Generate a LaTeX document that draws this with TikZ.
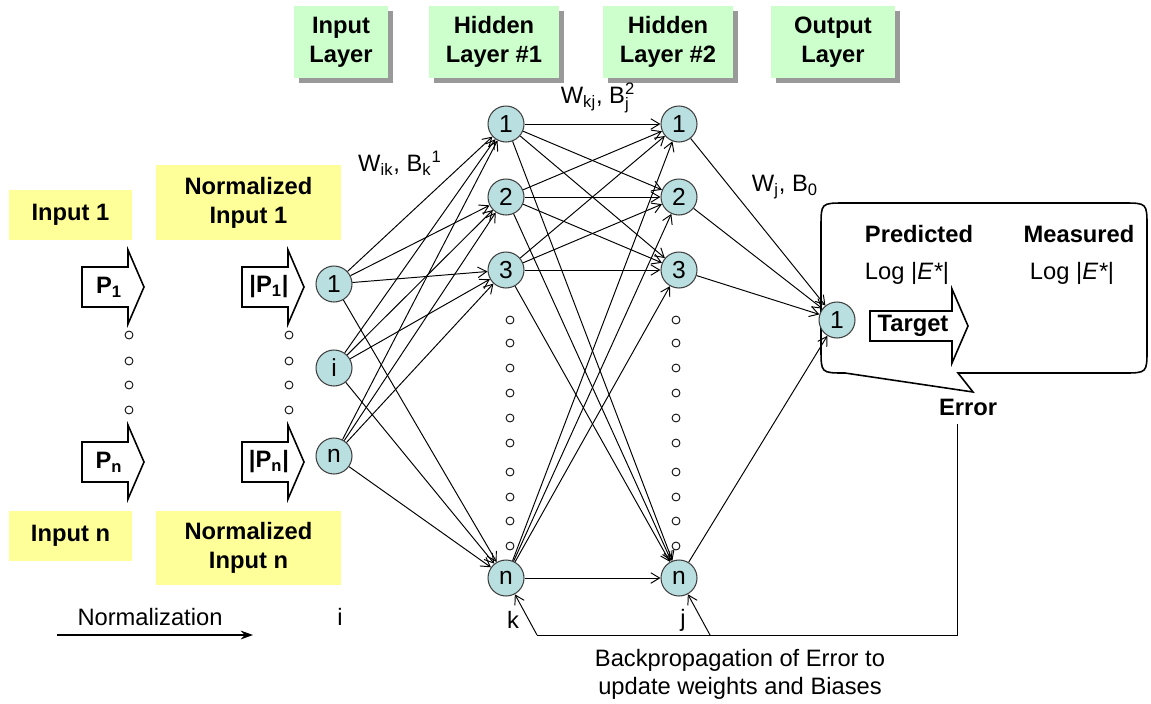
\documentclass[tikz,border=0pt]{standalone}
\usepackage{fontspec}
\setmainfont{Liberation Sans}
\usetikzlibrary{arrows.meta,shadows}

\definecolor{neuronfill}{HTML}{B9DFE0}
\definecolor{layergreen}{HTML}{CCFFCC}
\definecolor{inyellow}{HTML}{FFFF99}

% block arrow: x, y, half length, half shaft height
\newcommand{\blockarrow}[4]{%
  \draw[blk] (#1-#3,#2-#4) -- (#1+#3-16,#2-#4) -- (#1+#3-16,#2-37) -- (#1+#3,#2)
    -- (#1+#3-16,#2+37) -- (#1+#3-16,#2+#4) -- (#1-#3,#2+#4) -- cycle;}

\begin{document}
\begin{tikzpicture}[x=0.02cm, y=-0.02cm]
  \tikzset{
    neuron/.style={draw=black!75, fill=neuronfill, circle, minimum size=0.72cm, inner sep=0pt, line width=0.6pt, font=\fontsize{14}{16}\selectfont},
    layerbox/.style={fill=layergreen, minimum height=1.44cm, align=center, inner sep=1pt, font=\bfseries\fontsize{13.5}{16.5}\selectfont, drop shadow={shadow xshift=0.1cm, shadow yshift=-0.1cm, fill=black!40, opacity=1}},
    inbox/.style={fill=inyellow, align=center, inner sep=1pt, font=\bfseries\fontsize{13.5}{16.5}\selectfont},
    lbl/.style={font=\fontsize{13.5}{16}\selectfont, inner sep=1pt},
    blbl/.style={font=\bfseries\fontsize{13.5}{16}\selectfont, inner sep=1pt},
    link/.style={-{Straight Barb[length=5pt,width=6pt]}, line width=0.55pt},
    blk/.style={draw, line width=0.9pt, fill=white},
    smalldot/.style={draw, circle, inner sep=0pt, minimum size=4.5pt, line width=0.5pt}
  }
  \useasboundingbox (0,0) rectangle (1151,703);

  % layer titles
  \node[layerbox, minimum width=1.9cm] (tin) at (341,42) {Input\\Layer};
  \node[layerbox, minimum width=2.6cm] (th1) at (494,42) {Hidden\\Layer \#1};
  \node[layerbox, minimum width=2.6cm] (th2) at (668,42) {Hidden\\Layer \#2};
  \node[layerbox, minimum width=2.48cm] (tout) at (833,42) {Output\\Layer};

  % inputs
  \node[inbox, minimum width=2.46cm, minimum height=1.0cm] (inp1) at (70.5,215) {Input 1};
  \node[inbox, minimum width=3.7cm, minimum height=1.5cm] (norm1) at (248.5,202.5) {Normalized\\Input 1};
  \node[inbox, minimum width=2.46cm, minimum height=1.0cm] (inpn) at (70.5,536) {Input n};
  \node[inbox, minimum width=3.7cm, minimum height=1.48cm] (normn) at (248.5,548) {Normalized\\Input n};

  \blockarrow{113}{287}{31}{20}
  \blockarrow{273}{287}{31}{20}
  \blockarrow{113}{462}{31}{20}
  \blockarrow{273}{462}{31}{20}
  \node[blbl] (p1) at (109,287) {P\textsubscript{1}};
  \node[blbl] (np1) at (269,287) {|P\textsubscript{1}|};
  \node[blbl] (pn) at (109,462) {P\textsubscript{n}};
  \node[blbl] (npn) at (269,462) {|P\textsubscript{n}|};
  \foreach \y in {335,361,385,410} {
    \node[smalldot] at (129,\y) {};
    \node[smalldot] at (289,\y) {};
  }

  % callout
  \draw[line width=0.9pt, fill=white] (958,373) -- (1123,373) .. controls (1147,373) .. (1147,349)
    -- (1147,227) .. controls (1147,203) .. (1123,203) -- (845,203) .. controls (821,203) .. (821,227)
    -- (821,349) .. controls (821,373) .. (845,373) -- (973,392) -- cycle;
  \node[blbl] (pred) at (919,234) {Predicted};
  \node[blbl] (meas) at (1079,234) {Measured};
  \node[lbl] (logp) at (907,273) {Log |\textit{E*}|};
  \node[lbl] (logm) at (1072,273) {Log |\textit{E*}|};
  \blockarrow{919}{326}{49}{15}
  \node[blbl] (target) at (913,326) {Target};
  \node[blbl] (err) at (968,407) {Error};

  % network
  \node[neuron] (in1) at (334,284) {1};
  \node[neuron] (ini) at (334,368) {i};
  \node[neuron] (inn) at (334,456) {n};
  \node[neuron] (ha1) at (506,124) {1};
  \node[neuron] (ha2) at (506,197) {2};
  \node[neuron] (ha3) at (506,270) {3};
  \node[neuron] (han) at (506,578) {n};
  \node[neuron] (hb1) at (679,124) {1};
  \node[neuron] (hb2) at (679,197) {2};
  \node[neuron] (hb3) at (679,270) {3};
  \node[neuron] (hbn) at (679,578) {n};
  \node[neuron] (out) at (837,320) {1};
  \foreach \y in {320,343,368,393,418,443,472,497,521,546} {
    \node[smalldot] at (510,\y) {};
    \node[smalldot] at (676,\y) {};
  }

  \foreach \a in {in1,ini,inn}
    \foreach \b in {ha1,ha2,ha3,han}
      \draw[link] (\a) -- (\b);
  \foreach \a in {ha1,ha2,ha3,han}
    \foreach \b in {hb1,hb2,hb3,hbn}
      \draw[link] (\a) -- (\b);
  \foreach \a in {hb1,hb2,hb3,hbn}
    \draw[link] (\a) -- (out);

  \node[lbl] (wik) at (400,163) {W\textsubscript{ik}, B\textsubscript{k}\textsuperscript{1}};
  \node[lbl] (wkj) at (598,98) {W\textsubscript{kj}, $\mathrm{B}_{\mathrm{j}}^{\mathrm{2}}$};
  \node[lbl] (wj) at (785,187) {W\textsubscript{j}, B\textsubscript{0}};

  % bottom labels
  \node[lbl] (nrm) at (150,617) {Normalization};
  \coordinate (nrmL) at (57,635);
  \coordinate (nrmR) at (253,635);
  \draw[-{Stealth[length=7pt,width=5pt]}, line width=0.9pt] (nrmL) -- (nrmR);
  \node[lbl] (li) at (340,617) {i};
  \node[lbl] (lk) at (513,620) {k};
  \node[lbl] (lj) at (683,620) {j};

  % backpropagation
  \coordinate (errtop) at (957,424);
  \coordinate (errcorner) at (957,635);
  \coordinate (bpk) at (537,635);
  \coordinate (bpj) at (710,635);
  \draw[line width=0.55pt] (errtop) -- (errcorner) -- (bpk);
  \draw[link] (bpk) -- (han);
  \draw[link] (bpj) -- (hbn);
  \node[lbl, align=center] (bp) at (740,674) {Backpropagation of Error to\\update weights and Biases};
\end{tikzpicture}
\end{document}
